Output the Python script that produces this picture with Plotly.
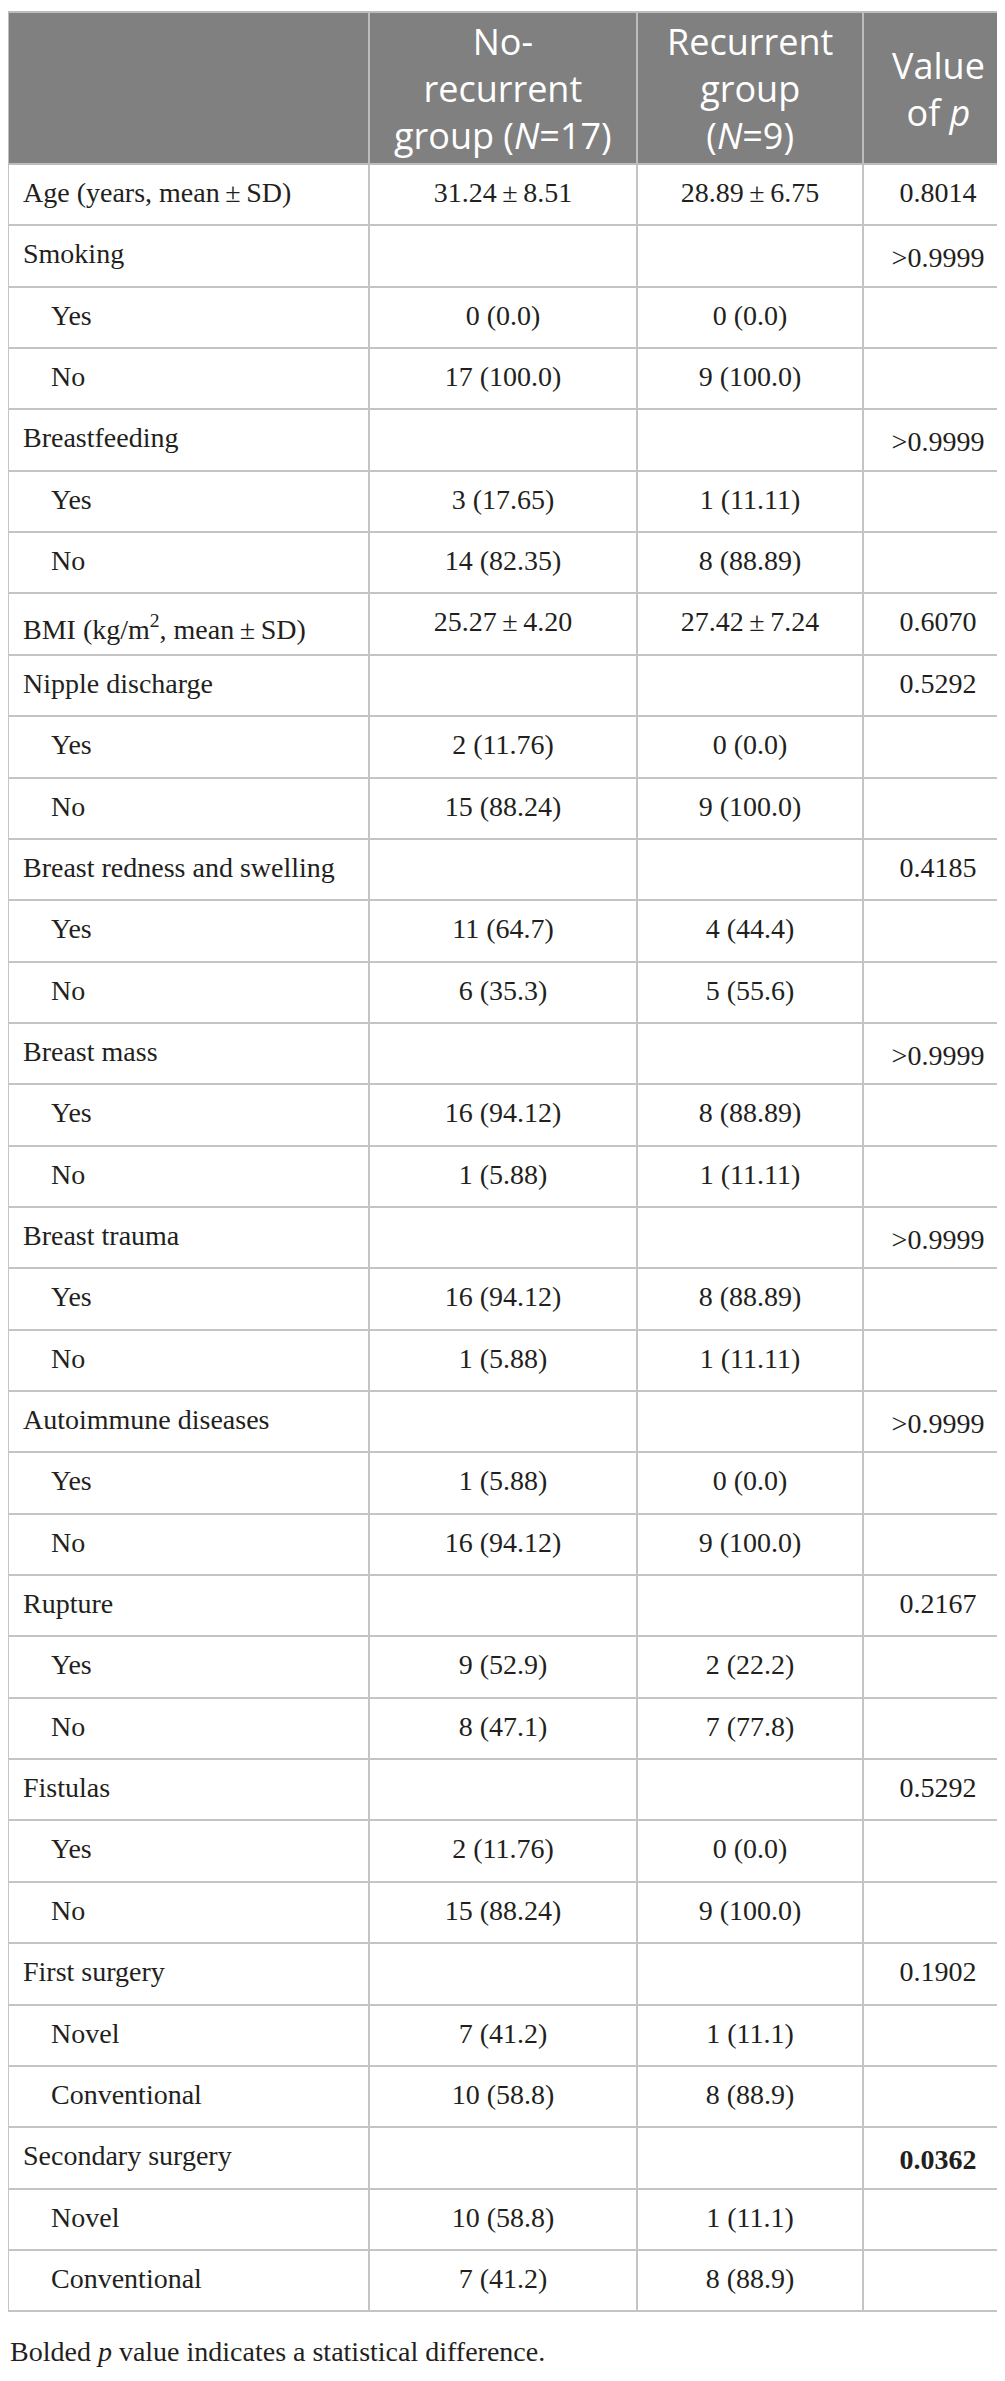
import plotly.graph_objects as go

W, H = 1005, 2381

# column headers
headers = [
    "",
    "No-<br>recurrent<br>group (<i>N</i>=17)",
    "Recurrent<br>group<br>(<i>N</i>=9)",
    "Value<br>of <i>p</i>",
]

characteristics = [
    "Age (years, mean\u2009±\u2009SD)", "Smoking", "Yes", "No",
    "Breastfeeding", "Yes", "No",
    "BMI (kg/m<sup>2</sup>, mean\u2009±\u2009SD)",
    "Nipple discharge", "Yes", "No",
    "Breast redness and swelling", "Yes", "No",
    "Breast mass", "Yes", "No",
    "Breast trauma", "Yes", "No",
    "Autoimmune diseases", "Yes", "No",
    "Rupture", "Yes", "No",
    "Fistulas", "Yes", "No",
    "First surgery", "Novel", "Conventional",
    "Secondary surgery", "Novel", "Conventional",
]
is_sub = [c in ("Yes", "No", "Novel", "Conventional") for c in characteristics]

no_recurrent = [
    "31.24\u2009±\u20098.51", "", "0 (0.0)", "17 (100.0)",
    "", "3 (17.65)", "14 (82.35)",
    "25.27\u2009±\u20094.20",
    "", "2 (11.76)", "15 (88.24)",
    "", "11 (64.7)", "6 (35.3)",
    "", "16 (94.12)", "1 (5.88)",
    "", "16 (94.12)", "1 (5.88)",
    "", "1 (5.88)", "16 (94.12)",
    "", "9 (52.9)", "8 (47.1)",
    "", "2 (11.76)", "15 (88.24)",
    "", "7 (41.2)", "10 (58.8)",
    "", "10 (58.8)", "7 (41.2)",
]

recurrent = [
    "28.89\u2009±\u20096.75", "", "0 (0.0)", "9 (100.0)",
    "", "1 (11.11)", "8 (88.89)",
    "27.42\u2009±\u20097.24",
    "", "0 (0.0)", "9 (100.0)",
    "", "4 (44.4)", "5 (55.6)",
    "", "8 (88.89)", "1 (11.11)",
    "", "8 (88.89)", "1 (11.11)",
    "", "0 (0.0)", "9 (100.0)",
    "", "2 (22.2)", "7 (77.8)",
    "", "0 (0.0)", "9 (100.0)",
    "", "1 (11.1)", "8 (88.9)",
    "", "1 (11.1)", "8 (88.9)",
]

p_values = [
    "0.8014", ">0.9999", "", "",
    ">0.9999", "", "",
    "0.6070",
    "0.5292", "", "",
    "0.4185", "", "",
    ">0.9999", "", "",
    ">0.9999", "", "",
    ">0.9999", "", "",
    "0.2167", "", "",
    "0.5292", "", "",
    "0.1902", "", "",
    "<b>0.0362</b>", "", "",
]

footnote = "Bolded <i>p</i> value indicates a statistical difference."

col_widths = [361, 268, 226, 150]
top = 3.5
head_h = 152.5
row_h = 61.35
text_drop = 9  # table text sits at the top of a cell, push it to the middle

first_col = [("\u00a0" * 5 if s else "\u00a0") + c for c, s in zip(characteristics, is_sub)]
n = len(characteristics)

fig = go.Figure()

# grid: fills and rules only
fig.add_trace(go.Table(
    domain=dict(x=[0, 1], y=[0, 1 - top / H]),
    columnwidth=col_widths,
    header=dict(
        values=["", "", "", ""],
        fill_color="#808080",
        line=dict(color="#bdbdbd", width=2),
        height=head_h,
    ),
    cells=dict(
        values=[[""] * n] * 4,
        fill_color="white",
        line=dict(color="#c4c4c4", width=2),
        height=row_h,
    ),
))

# text layer, same rows, nudged down
fig.add_trace(go.Table(
    domain=dict(x=[0, 1], y=[0, 1 - (top + text_drop) / H]),
    columnwidth=col_widths,
    header=dict(
        values=["", "", "", ""],
        fill_color="rgba(0,0,0,0)",
        line=dict(color="rgba(0,0,0,0)", width=0),
        height=head_h,
    ),
    cells=dict(
        values=[first_col, no_recurrent, recurrent, p_values],
        align=["left", "center", "center", "center"],
        fill_color="rgba(0,0,0,0)",
        line=dict(color="rgba(0,0,0,0)", width=0),
        font=dict(family="Liberation Serif", size=28, color="#231f20"),
        height=row_h,
    ),
))

# header labels centred in the grey band
edges = [sum(col_widths[:i]) for i in range(len(col_widths) + 1)]
for i, txt in enumerate(headers):
    if not txt:
        continue
    fig.add_annotation(
        x=(edges[i] + edges[i + 1]) / 2 / W, y=1 - 80.5 / H,
        xref="paper", yref="paper",
        text=txt, showarrow=False, xanchor="center", yanchor="middle",
        font=dict(family="Open Sans", size=36, color="white"),
    )

fig.add_annotation(
    x=0, y=1 - 2343 / H, xref="paper", yref="paper",
    text=footnote, showarrow=False, xanchor="left", yanchor="middle",
    font=dict(family="Liberation Serif", size=28, color="#231f20"),
)

fig.update_layout(
    width=W, height=H,
    margin=dict(l=0, r=0, t=0, b=0),
    paper_bgcolor="white",
)

fig.write_html("out.html")
